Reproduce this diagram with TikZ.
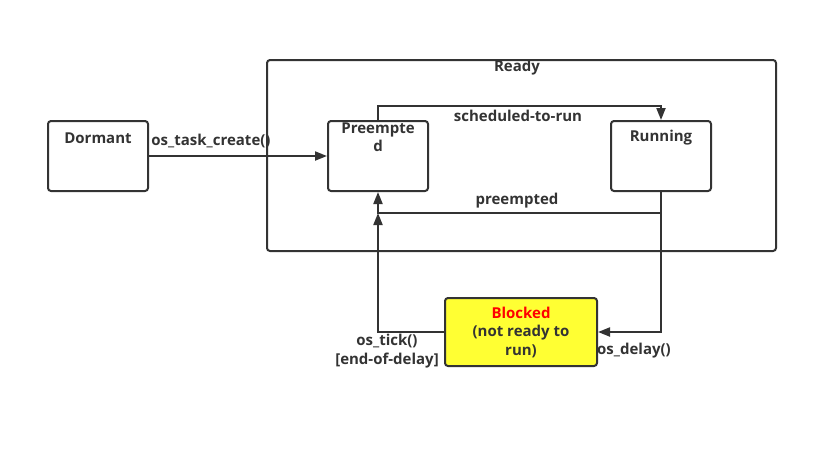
\documentclass[tikz,border=0pt]{standalone}
\usepackage{fontspec}
\setmainfont{Open Sans}
\usetikzlibrary{arrows.meta}
\definecolor{ink}{HTML}{333333}
\definecolor{blk}{HTML}{FFFF33}
\tikzset{
  statebox/.style={draw=ink, line width=2pt, rounded corners=3pt, inner sep=0pt},
  conn/.style={draw=ink, line width=2pt, -{Triangle[length=12pt,width=9pt]}},
  lbl/.style={text=ink, font=\fontsize{15}{18.5}\selectfont\bfseries, inner sep=0pt, align=center},
}
\begin{document}
\begin{tikzpicture}[x=1pt,y=-1pt]
\useasboundingbox (0,0) rectangle (838,459);
% Ready container
\draw[statebox] (267,60) rectangle (776,251);
\node[lbl] (readylbl) at (517,68) {Ready};
% States
\node[statebox, minimum width=100pt, minimum height=70pt] (dormant) at (98,156) {};
\node[lbl] (dormantlbl) at (98,138) {Dormant};

\node[statebox, minimum width=100pt, minimum height=70pt] (pre) at (378,156) {};
\node[lbl, align=center] (prelbl) at (378,137) {Preempte\\d};

\node[statebox, minimum width=100pt, minimum height=70pt] (run) at (661,156) {};
\node[lbl] (runlbl) at (661,138) {Running};

\node[statebox, fill=blk, minimum width=152pt, minimum height=68pt] (blk) at (521,332) {};
\node[lbl] (blklbl) at (521,332) {\textcolor{red}{Blocked}\\(not ready to\\run)};

% Connectors
\draw[conn] (dormant.east) -- (pre.west);
\node[lbl] (l1) at (211,141) {os\_task\_create()};

\coordinate (s1) at (378,106);
\coordinate (s2) at (661,106);
\draw[conn] (pre.north) -- (s1) -- (s2) -- (run.north);
\node[lbl] (l2) at (518,116) {scheduled-to-run};

\coordinate (p1) at (661,213);
\coordinate (p2) at (378,213);
\draw[conn] (run.south) -- (p1) -- (p2) -- (pre.south);
\node[lbl] (l3) at (517,201) {preempted};

\coordinate (d1) at (661,332);
\draw[conn] (p1) -- (d1) -- (blk.east);
\node[lbl] (l4) at (634,351) {os\_delay()};

\coordinate (t1) at (378,332);
\draw[conn] (blk.west) -- (t1) -- (p2);
\node[lbl] (l5) at (387,351) {os\_tick()\\{}[end-of-delay]};
\end{tikzpicture}
\end{document}
